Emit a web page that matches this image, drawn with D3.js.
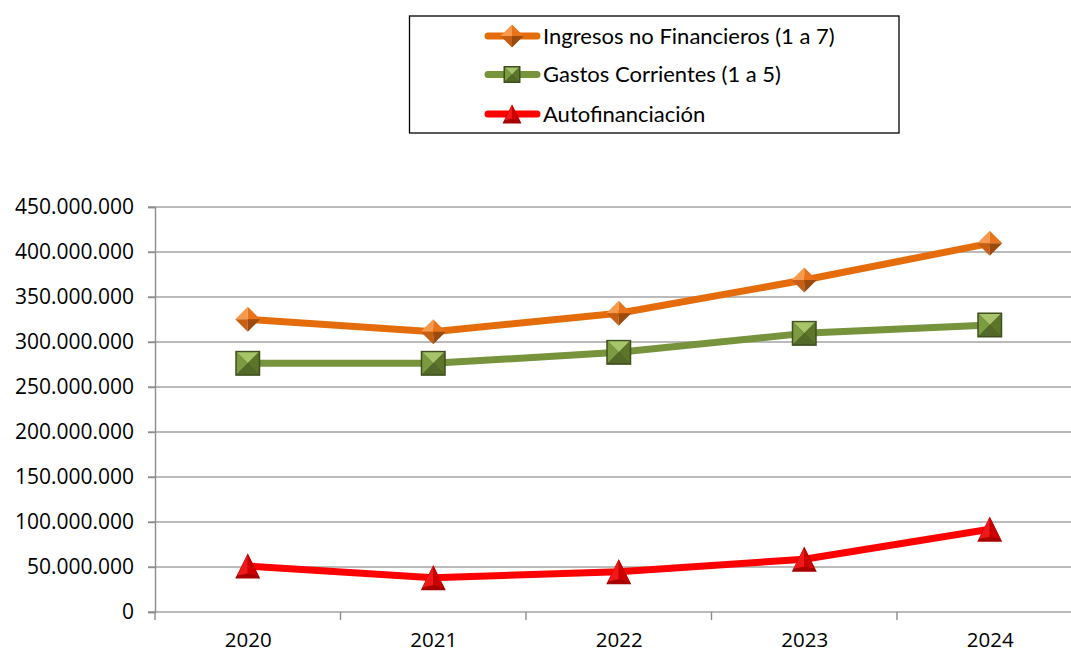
<!DOCTYPE html>
<html>
<head>
<meta charset="utf-8">
<script src="https://cdn.jsdelivr.net/npm/d3@7"></script>
<style>
  html, body { margin: 0; padding: 0; background: #fff; }
  svg { display: block; }
</style>
</head>
<body>
<script>
// data
var years = ["2020", "2021", "2022", "2023", "2024"];
var ingresos = [325200000, 311400000, 331900000, 368900000, 409600000];
var gastos = [276300000, 276300000, 288500000, 309600000, 318900000];
var autofin = [51100000, 38100000, 44800000, 58600000, 91900000];
var seriesNames = ["Ingresos no Financieros (1 a 7)", "Gastos Corrientes (1 a 5)", "Autofinanciación"];
var yTicks = [0, 50000000, 100000000, 150000000, 200000000, 250000000, 300000000, 350000000, 400000000, 450000000];

var W = 1071, H = 653;
var plotLeft = 155, plotRight = 1082.5, plotTop = 207, plotBottom = 612;

var svg = d3.select("body").append("svg")
	.attr("width", W)
	.attr("height", H);

var x = d3.scalePoint().domain(years).range([plotLeft, plotRight]).padding(0.5);
var y = d3.scaleLinear().domain([0, 450000000]).range([plotBottom, plotTop]);

var es = d3.formatLocale({decimal: ",", thousands: ".", grouping: [3], currency: ["", " €"]});
var fmt = es.format(",d");

// gridlines
svg.append("g")
	.selectAll("line")
	.data(yTicks)
	.enter().append("line")
	.attr("x1", plotLeft - 7)
	.attr("x2", plotRight)
	.attr("y1", function(d) { return y(d); })
	.attr("y2", function(d) { return y(d); })
	.attr("stroke", "#a3a3a3")
	.attr("stroke-width", 1.4);

// y axis
var yAxis = svg.append("g")
	.attr("transform", "translate(" + plotLeft + ",0)")
	.call(d3.axisLeft(y).tickValues(yTicks).tickSize(7).tickPadding(14).tickFormat(fmt));
yAxis.select(".domain").attr("stroke", "#8c8c8c").attr("stroke-width", 1.4);
yAxis.selectAll(".tick line").attr("stroke", "#8c8c8c").attr("stroke-width", 1.4);
yAxis.selectAll("text")
	.attr("font-family", "Open Sans")
	.attr("font-size", 21)
	.attr("fill", "#000");

// x axis (ticks between categories)
var step = x.step();
var xAxis = svg.append("g")
	.attr("transform", "translate(0," + plotBottom + ")")
	.call(d3.axisBottom(x).tickSize(0).tickPadding(20));
xAxis.select(".domain").remove();
xAxis.selectAll("text")
	.attr("font-family", "Open Sans")
	.attr("font-size", 20.5)
	.attr("fill", "#000");
svg.append("g")
	.selectAll("line")
	.data(years.concat(["end"]))
	.enter().append("line")
	.attr("x1", function(d, i) { return x(years[0]) - step / 2 + i * step; })
	.attr("x2", function(d, i) { return x(years[0]) - step / 2 + i * step; })
	.attr("y1", plotBottom)
	.attr("y2", plotBottom + 8)
	.attr("stroke", "#8c8c8c")
	.attr("stroke-width", 1.4);

// marker drawing (pyramid look)
function diamond(g, s) {
	var h = s / 2;
	g.append("path").attr("d", "M0," + (-h) + "L" + (-h) + ",0L0,0Z").attr("fill", "#f79a4e");
	g.append("path").attr("d", "M0," + (-h) + "L" + h + ",0L0,0Z").attr("fill", "#e8731a");
	g.append("path").attr("d", "M" + (-h) + ",0L0," + h + "L0,0Z").attr("fill", "#c75e12");
	g.append("path").attr("d", "M" + h + ",0L0," + h + "L0,0Z").attr("fill", "#9a4a0c");
}
function square(g, s) {
	var h = s / 2;
	g.append("rect").attr("x", -h).attr("y", -h).attr("width", s).attr("height", s).attr("fill", "#3f4f1f");
	var k = h - 1.5;
	g.append("path").attr("d", "M" + (-k) + "," + (-k) + "L" + k + "," + (-k) + "L0,0Z").attr("fill", "#a6c56a");
	g.append("path").attr("d", "M" + (-k) + "," + (-k) + "L" + (-k) + "," + k + "L0,0Z").attr("fill", "#7c9a3f");
	g.append("path").attr("d", "M" + k + "," + (-k) + "L" + k + "," + k + "L0,0Z").attr("fill", "#5c7528");
	g.append("path").attr("d", "M" + (-k) + "," + k + "L" + k + "," + k + "L0,0Z").attr("fill", "#52692a");
}
function triangle(g, s) {
	var h = s / 2;
	g.append("path").attr("d", "M0," + (-h) + "L" + (-h) + "," + h + "L" + h + "," + h + "Z").attr("fill", "#a80000");
	g.append("path").attr("d", "M0," + (-h) + "L" + (-h + 2) + "," + (h - 3) + "L0," + (h - 5) + "Z").attr("fill", "#f01818");
	g.append("path").attr("d", "M0," + (-h) + "L" + (h - 2) + "," + (h - 3) + "L0," + (h - 5) + "Z").attr("fill", "#cc0000");
}

var series = [
	{name: seriesNames[0], values: ingresos, color: "#e46c0a", marker: diamond, size: 25, legendSize: 23},
	{name: seriesNames[1], values: gastos, color: "#77933c", marker: square, size: 25, legendSize: 17},
	{name: seriesNames[2], values: autofin, color: "#ff0000", marker: triangle, size: 25, legendSize: 19}
];

var line = d3.line()
	.x(function(d, i) { return x(years[i]); })
	.y(function(d) { return y(d); });

series.forEach(function(s) {
	svg.append("path")
		.datum(s.values)
		.attr("d", line)
		.attr("fill", "none")
		.attr("stroke", s.color)
		.attr("stroke-width", 7)
		.attr("stroke-linejoin", "round");
});
series.forEach(function(s) {
	svg.append("g").selectAll("g")
		.data(s.values)
		.enter().append("g")
		.attr("transform", function(d, i) { return "translate(" + x(years[i]) + "," + y(d) + ")"; })
		.each(function() { s.marker(d3.select(this), s.size); });
});

// legend
var legend = svg.append("g");
legend.append("rect")
	.attr("x", 409.5).attr("y", 16)
	.attr("width", 489.5).attr("height", 117)
	.attr("fill", "#fff")
	.attr("stroke", "#000")
	.attr("stroke-width", 1.3);
var rows = legend.selectAll("g.row")
	.data(series)
	.enter().append("g")
	.attr("class", "row")
	.attr("transform", function(d, i) { return "translate(0," + [36, 74.5, 114][i] + ")"; });
rows.append("line")
	.attr("x1", 488).attr("x2", 537)
	.attr("y1", 0).attr("y2", 0)
	.attr("stroke", function(d) { return d.color; })
	.attr("stroke-width", 7)
	.attr("stroke-linecap", "round");
rows.append("g")
	.attr("transform", "translate(512,0)")
	.each(function(d) { d.marker(d3.select(this), d.legendSize); });
rows.append("text")
	.attr("x", 543)
	.attr("y", 7.5)
	.attr("font-family", "Lato")
	.attr("font-size", 22)
	.attr("fill", "#000")
	.text(function(d) { return d.name; });
</script>
</body>
</html>
